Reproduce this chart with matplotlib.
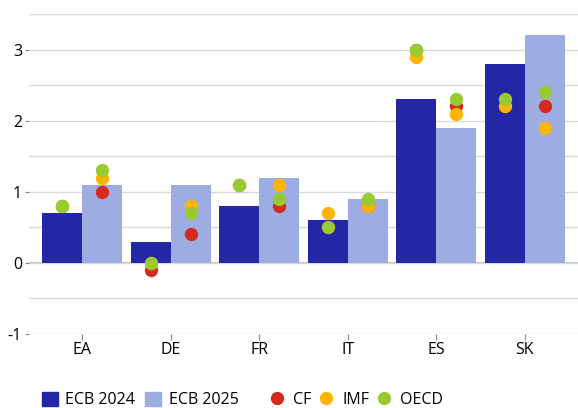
import numpy as np
import matplotlib.pyplot as plt
from matplotlib.lines import Line2D
from matplotlib.patches import Patch

countries = ["EA", "DE", "FR", "IT", "ES", "SK"]

ecb_2024 = [0.7, 0.3, 0.8, 0.6, 2.3, 2.8]
ecb_2025 = [1.1, 1.1, 1.2, 0.9, 1.9, 3.2]

# other forecasters, 2024 and 2025
cf_2024 = [0.8, -0.1, 1.1, 0.5, 3.0, 2.2]
cf_2025 = [1.0, 0.4, 0.8, 0.8, 2.2, 2.2]
imf_2024 = [0.8, 0.0, 1.1, 0.7, 2.9, 2.2]
imf_2025 = [1.2, 0.8, 1.1, 0.8, 2.1, 1.9]
oecd_2024 = [0.8, 0.0, 1.1, 0.5, 3.0, 2.3]
oecd_2025 = [1.3, 0.7, 0.9, 0.9, 2.3, 2.4]

dark_blue = "#2326a5"
light_blue = "#9eade1"
red = "#d52b1e"
orange = "#ffb400"
green = "#98ca32"

plt.rcParams['font.family'] = ['Open Sans', 'DejaVu Sans']
plt.rcParams['axes.unicode_minus'] = False

fig = plt.figure(figsize=(5.78, 4.08), dpi=100)
ax = fig.add_axes([0.0502, 0.1814, 0.9498, 0.7843])

x = np.arange(len(countries))
w = 0.45
ax.bar(x - w / 2, ecb_2024, width=w, color=dark_blue, zorder=2)
ax.bar(x + w / 2, ecb_2025, width=w, color=light_blue, zorder=2)

ms = 9.6
for vals24, vals25, col in [(cf_2024, cf_2025, red),
                            (imf_2024, imf_2025, orange),
                            (oecd_2024, oecd_2025, green)]:
    ax.plot(x - w / 2, vals24, 'o', color=col, ms=ms, mew=0, zorder=3)
    ax.plot(x + w / 2, vals25, 'o', color=col, ms=ms, mew=0, zorder=3)

ax.set_xlim(-0.6, 5.6)
ax.set_ylim(-1, 3.5)
ax.set_yticks([-1, 0, 1, 2, 3])
ax.set_yticks(np.arange(-1, 3.51, 0.5), minor=True)
ax.set_xticks(x)
ax.set_xticklabels(countries)
ax.grid(axis='y', which='both', color='#d9d9d9', lw=1, zorder=0)
ax.axhline(0, color='#c4c4c4', lw=1.5, zorder=1)
for s in ax.spines.values():
    s.set_visible(False)
ax.tick_params(axis='y', which='major', length=3, color='#888888', labelsize=11.5, pad=2)
ax.tick_params(axis='y', which='minor', length=0)
ax.tick_params(axis='x', length=4, color='#888888', labelsize=11.5, pad=2)

ecb_handles = [
    Patch(color=dark_blue, label="ECB 2024"),
    Patch(color=light_blue, label="ECB 2025"),
]
other_handles = [
    Line2D([], [], ls='', marker='o', color=red, ms=ms, mew=0, label="CF"),
    Line2D([], [], ls='', marker='o', color=orange, ms=ms, mew=0, label="IMF"),
    Line2D([], [], ls='', marker='o', color=green, ms=ms, mew=0, label="OECD"),
]
leg_kw = dict(loc='center left', ncol=5, frameon=False, fontsize=11.5,
              handlelength=1.0, handleheight=1.0, handletextpad=0.5)
fig.legend(handles=ecb_handles, bbox_to_anchor=(0.047, 0.02),
           columnspacing=0.6, **leg_kw)
fig.legend(handles=other_handles, bbox_to_anchor=(0.44, 0.02),
           columnspacing=0.45, **leg_kw)

fig.savefig("out.png", dpi=100)
